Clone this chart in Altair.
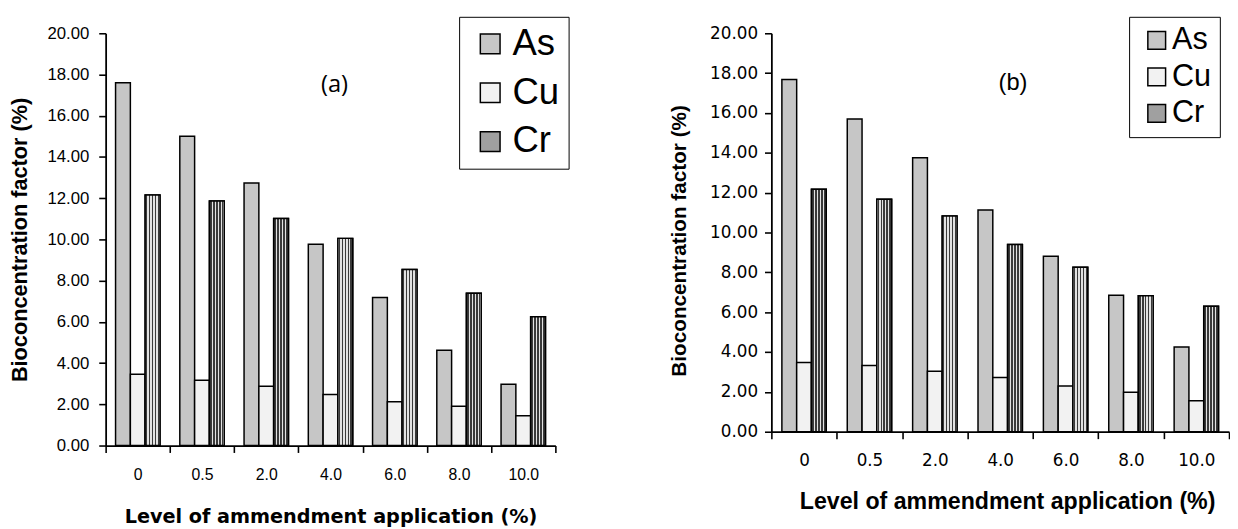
import altair as alt
import pandas as pd

# ---------------- data ----------------
levels = ["0", "0.5", "2.0", "4.0", "6.0", "8.0", "10.0"]
metals = ["As", "Cu", "Cr"]

as_a = [17.60, 15.01, 12.74, 9.77, 7.18, 4.62, 2.97]
cu_a = [3.46, 3.17, 2.88, 2.48, 2.13, 1.91, 1.45]
cr_a = [12.15, 11.86, 11.02, 10.05, 8.54, 7.39, 6.25]

as_b = [17.68, 15.70, 13.75, 11.13, 8.81, 6.85, 4.25]
cu_b = [3.48, 3.32, 3.04, 2.72, 2.30, 1.98, 1.56]
cr_b = [12.17, 11.67, 10.83, 9.40, 8.26, 6.82, 6.30]

y_ticks = [0, 2, 4, 6, 8, 10, 12, 14, 16, 18, 20]
panel_tags = ["(a)", "(b)"]
tag_level = "4.0"
tag_value = 17.5

x_title = "Level of ammendment application (%)"
y_title = "Bioconcentration factor (%)"

fill_colors = ["#c6c6c6", "#f2f2f2", "#a0a0a0"]


def frame(a, c, r):
    rows = []
    for i, lv in enumerate(levels):
        rows.append({"level": lv, "metal": "As", "value": a[i]})
        rows.append({"level": lv, "metal": "Cu", "value": c[i]})
        rows.append({"level": lv, "metal": "Cr", "value": r[i]})
    return pd.DataFrame(rows)


def stripes(base, line, n, w):
    stops = [alt.GradientStop(color=base, offset=0)]
    for k in range(n):
        c = (k + 0.5) / n
        stops += [
            alt.GradientStop(color=base, offset=c - w / 2),
            alt.GradientStop(color=line, offset=c - w / 2),
            alt.GradientStop(color=line, offset=c + w / 2),
            alt.GradientStop(color=base, offset=c + w / 2),
        ]
    stops.append(alt.GradientStop(color=base, offset=1))
    return alt.LinearGradient(gradient="linear", stops=stops, x1=0, x2=1, y1=0, y2=0)


def panel(df, tag, width, height, s):
    xaxis = dict(
        title=x_title, tickBand="extent", labelAngle=0,
        labelFont=s["xlab_font"], labelFontSize=s["xlab_size"], labelColor="black",
        labelPadding=s["xlab_pad"], tickSize=7, tickWidth=1.6, tickColor="black",
        domainColor="black", domainWidth=1.8,
        titleFont=s["xt_font"], titleFontSize=s["xt_size"], titleFontWeight="bold",
        titleColor="black", titlePadding=s["xt_pad"],
    )
    if "xt_x" in s:
        xaxis["titleX"] = s["xt_x"]
    x = alt.X(
        "level:N", sort=levels,
        scale=alt.Scale(domain=levels, paddingInner=0, paddingOuter=0),
        axis=alt.Axis(**xaxis),
    )
    xo = alt.XOffset(
        "metal:N", sort=metals,
        scale=alt.Scale(domain=metals, paddingInner=0, paddingOuter=s["outer"]),
    )
    yaxis = dict(
        values=y_ticks, format=".2f", title=y_title,
        labelFont=s["ylab_font"], labelFontSize=s["ylab_size"], labelColor="black",
        labelPadding=s["ylab_pad"], tickSize=7, tickWidth=1.6, tickColor="black",
        domainColor="black", domainWidth=1.8, grid=False,
        titleFont="Liberation Sans", titleFontSize=s["yt_size"], titleFontWeight="bold",
        titleColor="black", titlePadding=s["yt_pad"],
    )
    if "yt_y" in s:
        yaxis["titleY"] = s["yt_y"]
    y = alt.Y("value:Q", scale=alt.Scale(domain=[0, 20], nice=False), axis=alt.Axis(**yaxis))

    base = alt.Chart(df)
    bars = base.mark_bar(stroke="black", strokeWidth=1.5).encode(
        x=x, xOffset=xo, y=y,
        fill=alt.Fill(
            "metal:N", sort=metals,
            scale=alt.Scale(domain=metals, range=fill_colors),
            legend=alt.Legend(
                orient="none", legendX=s["lx"], legendY=s["ly"], title=None,
                strokeColor="black", fillColor="white", padding=s["lpad"],
                symbolType="square", symbolSize=s["sym"] ** 2,
                symbolStrokeColor="black", symbolStrokeWidth=1.5,
                symbolOffset=s["symoff"], labelOffset=s["laboff"],
                labelFont="Liberation Sans", labelFontSize=s["lfs"], labelColor="black",
                rowPadding=s["rowpad"],
            ),
        ),
    )
    cr = base.transform_filter(alt.datum.metal == "Cr").mark_bar(
        stroke="black", strokeWidth=1.5,
        fill=stripes("#e2e2e2", "#3a3a3a", 5, 0.1),
    ).encode(x=x, xOffset=xo, y=y)

    tdf = pd.DataFrame({"level": [tag_level], "value": [tag_value], "tag": [tag]})
    txt = alt.Chart(tdf).mark_text(
        font=s["tag_font"], fontSize=s["tag_size"], color="black",
        align="center", baseline="middle", dx=s["tag_dx"],
    ).encode(
        x=alt.X("level:N", sort=levels), y=alt.Y("value:Q"), text="tag:N"
    )
    return alt.layer(bars, cr, txt).properties(width=width, height=height)


left_style = dict(
    xlab_font="Liberation Sans", xlab_size=16, xlab_pad=14,
    xt_font="DejaVu Sans", xt_size=19.5, xt_pad=26,
    ylab_font="Liberation Sans", ylab_size=17, ylab_pad=10,
    yt_size=22, yt_pad=16, outer=0.67,
    lx=358.4, ly=-16.7, lpad=9, sym=20, symoff=4, laboff=4, lfs=37, rowpad=11.5,
    tag_font="Open Sans", tag_size=24, tag_dx=4,
)
right_style = dict(
    xlab_font="DejaVu Sans", xlab_size=17, xlab_pad=14.5,
    xt_font="Liberation Sans", xt_size=23.5, xt_pad=21.5, xt_x=239,
    ylab_font="DejaVu Sans", ylab_size=17, ylab_pad=7,
    yt_size=21, yt_pad=20, yt_y=210, outer=0.71,
    lx=362.7, ly=-16.7, lpad=8.5, sym=18, symoff=4, laboff=0, lfs=31, rowpad=5,
    tag_font="Liberation Sans", tag_size=24, tag_dx=13,
)

left = panel(frame(as_a, cu_a, cr_a), panel_tags[0], 456, 418, left_style)
right = panel(frame(as_b, cu_b, cr_b), panel_tags[1], 464, 404, right_style)

chart = (
    alt.hconcat(left, right, spacing=101)
    .resolve_scale(fill="independent", x="independent", y="independent", xOffset="independent")
    .configure_view(stroke=None)
    .properties(padding={"left": 0, "top": 4, "right": 0, "bottom": 0}, background="white")
)

chart.save("out.html", embed_options={"renderer": "svg", "actions": False})
